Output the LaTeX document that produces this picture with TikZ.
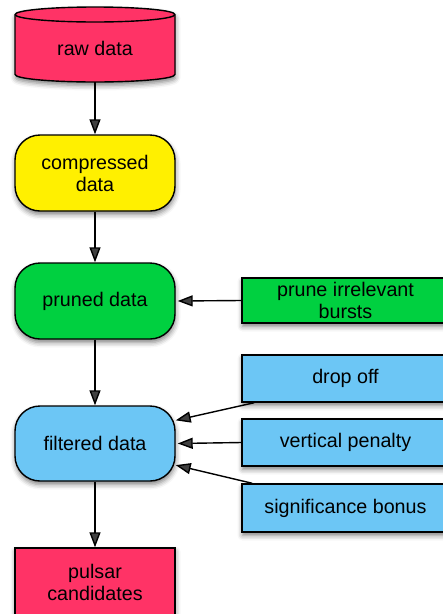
\documentclass[tikz,border=0pt]{standalone}
\usepackage{fontspec}
\setmainfont{Liberation Sans}
\usetikzlibrary{arrows.meta,shadows.blur}
\definecolor{pinkc}{RGB}{255,51,102}
\definecolor{yellowc}{RGB}{255,240,0}
\definecolor{greenc}{RGB}{0,208,64}
\definecolor{bluec}{RGB}{108,198,245}
\begin{document}
\begin{tikzpicture}[x=1pt,y=-1pt,
  font=\fontsize{19.7}{22}\selectfont,
  shad/.style={blur shadow={shadow xshift=0.5pt,shadow yshift=-3.5pt,shadow blur radius=5pt,shadow opacity=50}},
  bord/.style={draw=black,line width=1.4pt},
  roundbox/.style={bord,shad,rounded corners=25pt,minimum width=160pt,align=center,inner sep=0pt},
  sidebox/.style={bord,shad,minimum width=207pt,align=center,inner sep=0pt},
  textonly/.style={minimum width=160pt,align=center,inner sep=0pt},
  arr/.style={line width=1.4pt,-{Triangle[length=15pt,width=11pt]}}]
\useasboundingbox (0,0) rectangle (443,614);
% cylinder
\path[bord,fill=pinkc,shad] (15,14.5) -- (15,74.5) arc[start angle=180,end angle=360,x radius=80pt,y radius=7.5pt]
  -- (175,14.5) arc[start angle=0,end angle=180,x radius=80pt,y radius=7.5pt] -- cycle;
\draw[bord] (15,14.5) arc[start angle=180,end angle=360,x radius=80pt,y radius=7.5pt];
\node[textonly,minimum height=68pt] (raw) at (95,48) {raw data};
\node[roundbox,fill=yellowc,minimum height=76pt] (comp) at (95,173) {compressed\\data};
\node[roundbox,fill=greenc,minimum height=76pt] (pruned) at (95,301) {pruned data};
\node[roundbox,fill=bluec,minimum height=75pt] (filt) at (95,443.5) {filtered data};
\node[bord,shad,fill=pinkc,minimum width=160pt,minimum height=68pt,align=center,inner sep=0pt] (pulsar) at (95,582) {pulsar\\candidates};
\node[sidebox,fill=greenc,minimum height=45pt] (prune) at (345.5,300.5) {prune irrelevant\\bursts};
\node[sidebox,fill=bluec,minimum height=47pt] (drop) at (345.5,378.5) {drop off};
\node[sidebox,fill=bluec,minimum height=47pt] (vert) at (345.5,442.5) {vertical penalty};
\node[sidebox,fill=bluec,minimum height=48pt] (sig) at (345.5,508) {significance bonus};
\draw[arr] (raw.south) -- (comp.north);
\draw[arr] (comp.south) -- (pruned.north);
\draw[arr] (pruned.south) -- (filt.north);
\draw[arr] (filt.south) -- (pulsar.north);
\draw[arr] (prune.west) -- ([xshift=2pt]pruned.east);
\draw[arr] ([xshift=13pt]drop.south west) -- (filt.16);
\draw[arr] (vert.west) -- ([xshift=2pt]filt.east);
\draw[arr] ([xshift=11pt]sig.north west) -- (filt.-15);
\end{tikzpicture}
\end{document}
